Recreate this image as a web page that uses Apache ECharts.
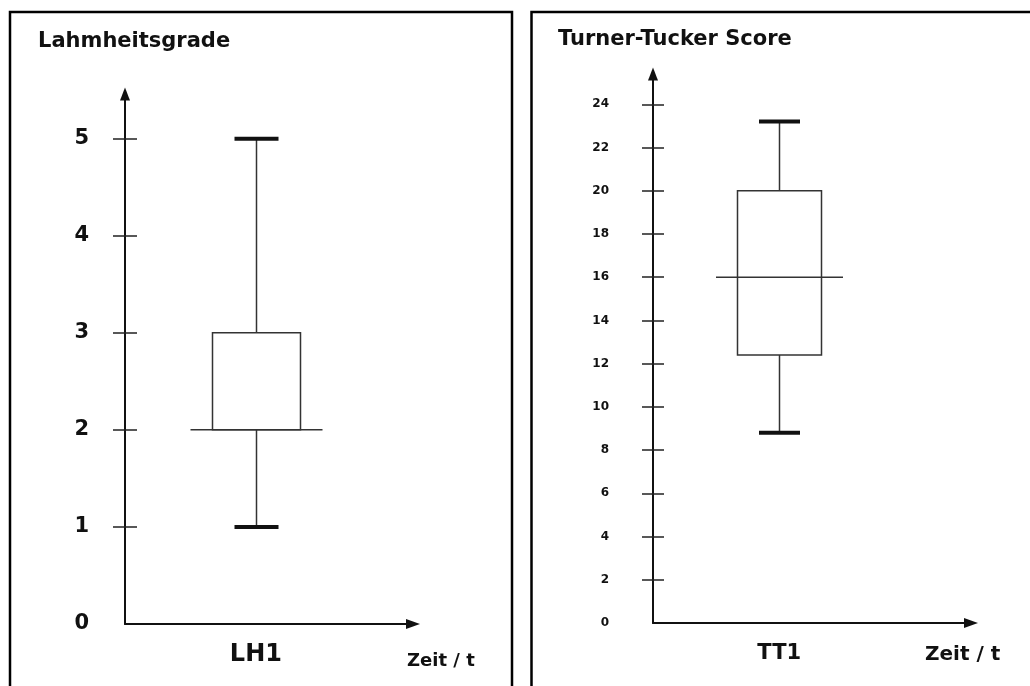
<!DOCTYPE html>
<html>
<head>
<meta charset="utf-8">
<script src="https://cdn.jsdelivr.net/npm/echarts@6/dist/echarts.min.js"></script>
<style>
html,body{margin:0;padding:0;background:#fff;}
#chart{width:1030px;height:686px;}
</style>
</head>
<body>
<div id="chart"></div>
<script>
// ---- data ----
const leftTitle = 'Lahmheitsgrade';
const rightTitle = 'Turner-Tucker Score';
const xAxisName = 'Zeit / t';
const leftCategories = ['LH1'];
const rightCategories = ['TT1'];
// [low, Q1, median, Q3, high]
const leftStats = [[1, 2, 2, 3, 5]];
const rightStats = [[8.8, 12.4, 16, 20, 23.2]];
const leftTickLabels = [0, 1, 2, 3, 4, 5];
const rightTickLabels = [0, 2, 4, 6, 8, 10, 12, 14, 16, 18, 20, 22, 24];

const FONT = 'DejaVu Sans';
const INK = '#111';

function toData(cats, stats) {
  return cats.map((c, i) => [i + 1].concat(stats[i]));
}

function makeRender(sz) {
  return function (params, api) {
    const x = api.value(0);
    const pLow = api.coord([x, api.value(1)]);
    const pQ1 = api.coord([x, api.value(2)]);
    const pMed = api.coord([x, api.value(3)]);
    const pQ3 = api.coord([x, api.value(4)]);
    const pHigh = api.coord([x, api.value(5)]);
    const cx = Math.round(pLow[0]) + 0.5;
    const hb = sz.box / 2, hm = sz.median / 2, hc = sz.cap / 2;
    const thin = { stroke: '#333', lineWidth: 1.5, fill: null };
    return {
      type: 'group',
      children: [
        { type: 'line', shape: { x1: cx, y1: pQ3[1], x2: cx, y2: pHigh[1] }, style: thin },
        { type: 'line', shape: { x1: cx, y1: pQ1[1], x2: cx, y2: pLow[1] }, style: thin },
        { type: 'rect', shape: { x: cx - hb, y: pQ3[1], width: 2 * hb, height: pQ1[1] - pQ3[1] }, style: { stroke: '#333', lineWidth: 1.5, fill: '#fff' } },
        { type: 'line', shape: { x1: cx - hm, y1: pMed[1], x2: cx + hm, y2: pMed[1] }, style: thin },
        { type: 'line', shape: { x1: cx - hc, y1: pHigh[1], x2: cx + hc, y2: pHigh[1] }, style: { stroke: INK, lineWidth: 4 } },
        { type: 'line', shape: { x1: cx - hc, y1: pLow[1], x2: cx + hc, y2: pLow[1] }, style: { stroke: INK, lineWidth: 4 } }
      ]
    };
  };
}

function yAxes(gridIndex, max, labels, fontSize, margin, tickLen) {
  const ticks = labels.filter(v => v !== 0);
  return [
    {
      type: 'value', gridIndex, min: 0, max, position: 'left', offset: 0,
      axisLine: { show: true, symbol: ['none', 'triangle'], symbolSize: [10, 13], lineStyle: { color: INK, width: 2 } },
      axisTick: { show: true, customValues: ticks, length: tickLen, lineStyle: { color: '#222', width: 1.5 } },
      axisLabel: { show: true, customValues: labels, margin, color: INK, fontFamily: FONT, fontWeight: 'bold', fontSize },
      splitLine: { show: false }
    },
    {
      type: 'value', gridIndex, min: 0, max, position: 'left', offset: 0,
      axisLine: { show: false },
      axisTick: { show: true, inside: true, customValues: ticks, length: tickLen, lineStyle: { color: '#222', width: 1.5 } },
      axisLabel: { show: false },
      splitLine: { show: false }
    }
  ];
}

function xAxis(gridIndex, max, cats, fontSize, margin, nameGap, namePad, nameSize) {
  return {
    type: 'value', gridIndex, min: 0, max, position: 'bottom',
    axisLine: { show: true, symbol: ['none', 'triangle'], symbolSize: [10, 14], lineStyle: { color: INK, width: 2 } },
    axisTick: { show: false },
    axisLabel: {
      show: true, customValues: cats.map((c, i) => i + 1),
      formatter: v => cats[Math.round(v) - 1] || '',
      margin, color: INK, fontFamily: FONT, fontWeight: 'bold', fontSize
    },
    splitLine: { show: false },
    name: xAxisName, nameLocation: 'end', nameGap,
    nameTextStyle: { color: INK, fontFamily: FONT, fontWeight: 'bold', fontSize: nameSize, align: 'left', verticalAlign: 'top', padding: [namePad, 0, 0, 0] }
  };
}

const chart = echarts.init(document.getElementById('chart'), null, { renderer: 'canvas' });
chart.setOption({
  backgroundColor: '#fff',
  animation: false,
  title: [
    { text: leftTitle, left: 38, top: 31, padding: 0, textStyle: { fontFamily: FONT, fontWeight: 'bold', fontSize: 21, color: INK } },
    { text: rightTitle, left: 558, top: 29, padding: 0, textStyle: { fontFamily: FONT, fontWeight: 'bold', fontSize: 21, color: INK } }
  ],
  graphic: [
    { type: 'rect', shape: { x: 10, y: 12, width: 502, height: 700 }, style: { fill: null, stroke: '#000', lineWidth: 2.5 }, silent: true },
    { type: 'rect', shape: { x: 531.5, y: 12, width: 520, height: 700 }, style: { fill: null, stroke: '#000', lineWidth: 2.5 }, silent: true }
  ],
  grid: [
    { left: 125, top: 94, right: 617, bottom: 62 },
    { left: 653, top: 74, right: 59, bottom: 63 }
  ],
  xAxis: [
    xAxis(0, 2.2, leftCategories, 24, 19, -6, 28, 18),
    xAxis(1, 2.52, rightCategories, 21, 20, -46, 22, 20)
  ],
  yAxis: [].concat(
    yAxes(0, 5.46, leftTickLabels, 21, 36, 12),
    yAxes(1, 25.4, rightTickLabels, 12, 44, 11)
  ),
  series: [
    { type: 'custom', xAxisIndex: 0, yAxisIndex: 0, renderItem: makeRender({ box: 88, median: 132, cap: 44 }), data: toData(leftCategories, leftStats), clip: false },
    { type: 'custom', xAxisIndex: 1, yAxisIndex: 2, renderItem: makeRender({ box: 84, median: 127, cap: 41 }), data: toData(rightCategories, rightStats), clip: false }
  ]
});
</script>
</body>
</html>
